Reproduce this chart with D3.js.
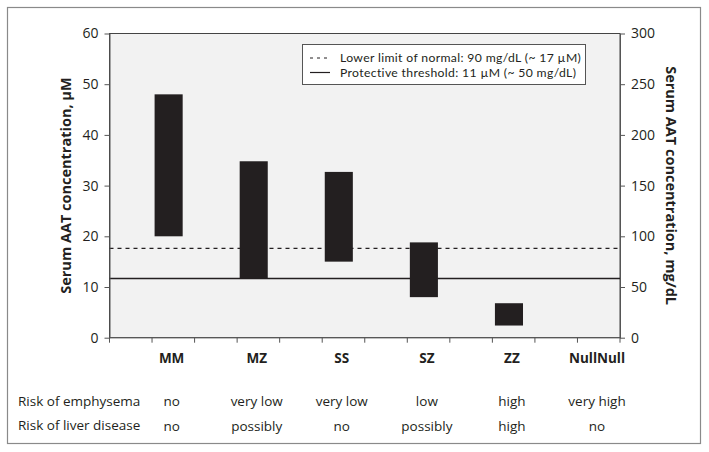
<!DOCTYPE html>
<html><head><meta charset="utf-8">
<script src="https://cdn.jsdelivr.net/npm/d3@7"></script>
<style>body{margin:0;background:#fff;} text{font-family:"Open Sans",sans-serif;fill:#231f20;}</style>
</head><body>
<svg id="c" width="709" height="452"></svg>
<script>
const categories = ["MM","MZ","SS","SZ","ZZ","NullNull"];
const lowValues  = [20, 11.7, 15, 8, 2.4, null];
const highValues = [48, 34.8, 32.7, 18.8, 6.8, null];
const emphysemaRisk = ["no","very low","very low","low","high","very high"];
const liverRisk = ["no","possibly","no","possibly","high","no"];
const leftTicks = [0,10,20,30,40,50,60];
const rightTicks = [0,50,100,150,200,250,300];
const lowerLimit = 17.6;
const protective = 11.7;
const legendLabels = ["Lower limit of normal: 90 mg/dL (~ 17 \u00b5M)","Protective threshold: 11 \u00b5M (~ 50 mg/dL)"];

const svg = d3.select("#c");
const L=109.5, R=620, T=33.5, B=337.7;
const x = d3.scaleBand().domain(categories).range([L,R]).padding(0);
const y = d3.scaleLinear().domain([0,60]).range([B,T]);
const y2 = d3.scaleLinear().domain([0,300]).range([B,T]);
const bw = x.bandwidth();

// outer frame
svg.append("rect").attr("x",7.5).attr("y",7.5).attr("width",693).attr("height",436)
  .attr("fill","none").attr("stroke","#8a8a8a").attr("stroke-width",1.2);

// plot bg
svg.append("rect").attr("x",L).attr("y",T).attr("width",R-L).attr("height",B-T)
  .attr("fill","#f2f2f2").attr("stroke","#444").attr("stroke-width",1);

// reference lines
svg.append("line").attr("x1",L).attr("x2",R).attr("y1",y(lowerLimit)).attr("y2",y(lowerLimit))
  .attr("stroke","#231f20").attr("stroke-width",1.2).attr("stroke-dasharray","4,4");
svg.append("line").attr("x1",L).attr("x2",R).attr("y1",y(protective)).attr("y2",y(protective))
  .attr("stroke","#231f20").attr("stroke-width",1.5);

// bars
categories.forEach((c,i)=>{
  if(lowValues[i]==null) return;
  svg.append("rect").attr("x",x(c)+0.53*bw).attr("width",0.33*bw)
    .attr("y",y(highValues[i])).attr("height",y(lowValues[i])-y(highValues[i]))
    .attr("fill","#231f20");
});

// axes
const axStyle = g=>{g.selectAll("path,line").attr("stroke","#555");g.selectAll("text").attr("font-size",14).attr("font-family","Open Sans").attr("fill","#231f20");};
svg.append("g").attr("transform",`translate(${L},0)`)
  .call(d3.axisLeft(y).tickValues(leftTicks).tickSize(5).tickPadding(6).tickSizeOuter(0)).call(axStyle);
svg.append("g").attr("transform",`translate(${R},0)`)
  .call(d3.axisRight(y2).tickValues(rightTicks).tickSize(5).tickPadding(6).tickSizeOuter(0)).call(axStyle);
// x ticks at band boundaries and centers
const xt = svg.append("g");
const xpos = [];
categories.forEach(c=>{xpos.push(x(c)); xpos.push(x(c)+bw/2);});
xpos.push(R);
xt.selectAll("line").data(xpos).join("line").attr("x1",d=>d).attr("x2",d=>d)
  .attr("y1",B).attr("y2",B+5).attr("stroke","#555");
svg.append("line").attr("x1",L).attr("x2",R).attr("y1",B).attr("y2",B).attr("stroke","#555");

// category labels
const cx = c=>x(c)+0.73*bw;
svg.selectAll(".cat").data(categories).join("text").attr("class","cat")
  .attr("x",c=>cx(c)).attr("y",363).attr("text-anchor","middle")
  .attr("font-size",13.5).attr("font-weight","bold").text(d=>d);

// rows
svg.append("text").attr("x",18).attr("y",406).attr("font-size",13.5).text("Risk of emphysema");
svg.append("text").attr("x",18).attr("y",430).attr("font-size",13.5).text("Risk of liver disease");
categories.forEach((c,i)=>{
  svg.append("text").attr("x",cx(c)).attr("y",406).attr("text-anchor","middle").attr("font-size",13.5).text(emphysemaRisk[i]);
  svg.append("text").attr("x",cx(c)).attr("y",431).attr("text-anchor","middle").attr("font-size",13.5).text(liverRisk[i]);
});

// axis titles
svg.append("text").attr("transform",`translate(71,${(T+B)/2}) rotate(-90)`).attr("text-anchor","middle")
  .attr("font-size",14.5).attr("font-weight","bold").text("Serum AAT concentration, \u00b5M");
svg.append("text").attr("transform",`translate(666,${(T+B)/2}) rotate(90)`).attr("text-anchor","middle")
  .attr("font-size",14.5).attr("font-weight","bold").text("Serum AAT concentration, mg/dL");

// legend
const lg = svg.append("g");
lg.append("rect").attr("x",302.5).attr("y",44.5).attr("width",283).attr("height",40)
  .attr("fill","#fff").attr("stroke","#555");
lg.append("line").attr("x1",310).attr("x2",330).attr("y1",58).attr("y2",58).attr("stroke","#231f20").attr("stroke-dasharray","3,4");
lg.append("line").attr("x1",310).attr("x2",330).attr("y1",72.5).attr("y2",72.5).attr("stroke","#231f20").attr("stroke-width",1.2);
lg.selectAll(".lt").data(legendLabels).join("text").attr("class","lt")
  .style("font-family","Lato").attr("font-size",12.2).attr("letter-spacing",0.35)
  .attr("x",340).attr("y",(d,i)=>62.2+i*14.7).text(d=>d);
</script>
</body></html>
